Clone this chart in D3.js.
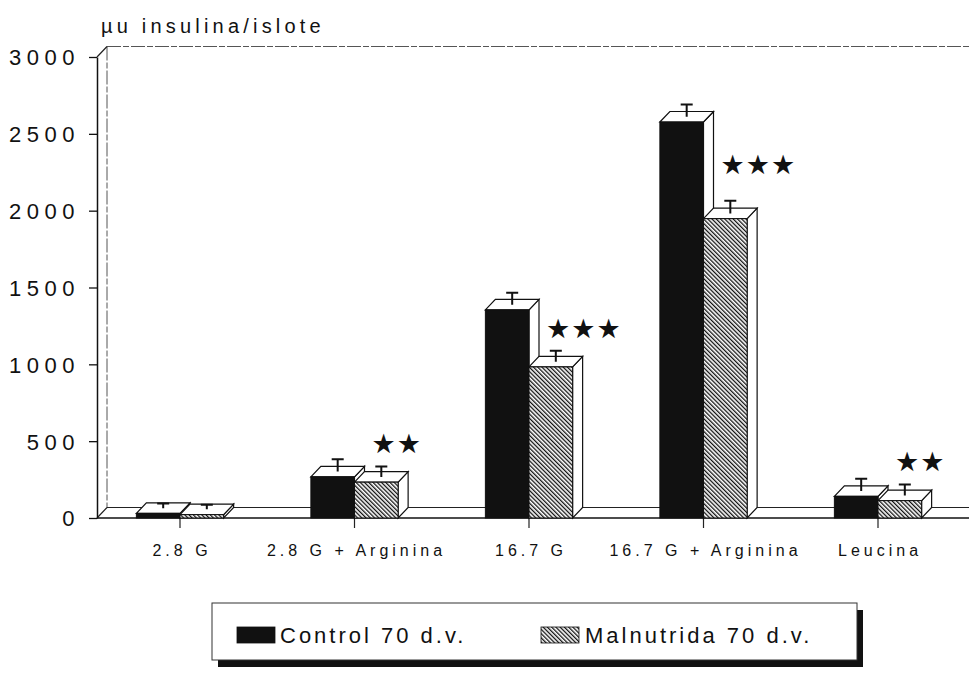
<!DOCTYPE html>
<html>
<head>
<meta charset="utf-8">
<script src="https://cdn.jsdelivr.net/npm/d3@7/dist/d3.min.js"></script>
<style>
  html, body { margin: 0; padding: 0; background: #fff; }
  svg { display: block; }
</style>
</head>
<body>
<svg id="chart" width="969" height="685"></svg>
<script>
// Insulin content per islet, control vs. malnourished rats at 70 days
const categories = ["2.8 G", "2.8 G + Arginina", "16.7 G", "16.7 G + Arginina", "Leucina"];
const control    = [30, 268, 1354, 2577, 141];
const controlErr = [30, 80, 78, 80, 80];
const malnutrida = [22, 233, 983, 1948, 113];
const malErr     = [30, 68, 72, 82, 71];
const significance = ["", "★★", "★★★", "★★★", "★★"];
const yTicks = [0, 500, 1000, 1500, 2000, 2500, 3000];
const seriesNames = ["Control 70 d.v.", "Malnutrida 70 d.v."];
const yTitle = "µu insulina/islote";

const FONT = "'Liberation Sans', Arial, Helvetica, sans-serif";
const svg = d3.select("#chart");

// pseudo-3D depth of the boxes and walls
const dx = 10, dy = 10.5;
const axisX = 97, plotRight = 969;

const y = d3.scaleLinear().domain([0, 3000]).range([518, 57]);
const x = d3.scaleBand().domain(categories).range([92.75, 965.25]).padding(0);
const barW = x.bandwidth() * 0.25;
const center = c => x(c) + x.bandwidth() / 2;

// diagonal hatching (opaque white ground) for the malnourished series
const defs = svg.append("defs");
const hatch = defs.append("pattern")
  .attr("id", "hatch")
  .attr("patternUnits", "userSpaceOnUse")
  .attr("width", 3).attr("height", 3)
  .attr("patternTransform", "rotate(-45)");
hatch.append("rect")
  .attr("x", 0).attr("y", 0).attr("width", 3).attr("height", 3)
  .attr("fill", "#fff");
hatch.append("rect")
  .attr("x", 0).attr("y", 0).attr("width", 1.3).attr("height", 3)
  .attr("fill", "#111");

// walls and floor
const frame = svg.append("g").attr("fill", "none");
const y0 = y(0), yTop = y(3000);
frame.append("path")
  .attr("d", `M${axisX + dx},${yTop - dy} H${plotRight} M${axisX + dx},${yTop - dy} V${y0 - dy}`)
  .attr("stroke", "#555").attr("stroke-width", 1).attr("stroke-dasharray", "14 2 6 2");
frame.append("path")
  .attr("d", `M${axisX},${yTop} L${axisX + dx},${yTop - dy} M${axisX},${y0} L${axisX + dx},${y0 - dy} M${axisX + dx},${y0 - dy} H${plotRight}`)
  .attr("stroke", "#222").attr("stroke-width", 1.2);
frame.append("path")
  .attr("d", `M${axisX},${y0} H${plotRight}`)
  .attr("stroke", "#111").attr("stroke-width", 1.5);

// y axis
const yAxis = svg.append("g")
  .attr("transform", `translate(${axisX},0)`)
  .call(d3.axisLeft(y).tickValues(yTicks).tickFormat(d3.format("d"))
    .tickSize(8).tickSizeOuter(0).tickPadding(9));
yAxis.select(".domain").attr("stroke", "#111").attr("stroke-width", 1.5);
yAxis.selectAll(".tick line").attr("stroke", "#111").attr("stroke-width", 1.3);
yAxis.selectAll(".tick text")
  .attr("font-family", FONT).attr("font-size", 22).attr("letter-spacing", 5.5)
  .attr("fill", "#111").attr("dx", 0).attr("dy", "0.36em");

// y title
svg.append("text")
  .attr("x", 101).attr("y", 33)
  .attr("font-family", FONT).attr("font-size", 20).attr("letter-spacing", 4.2)
  .attr("fill", "#111")
  .text(yTitle);

// x axis (tick between the two bars of each group)
const xAxis = svg.append("g")
  .attr("transform", `translate(0,${y0})`)
  .call(d3.axisBottom(x).tickSize(10).tickPadding(17));
xAxis.select(".domain").remove();
xAxis.selectAll(".tick line").attr("stroke", "#222").attr("stroke-width", 1.2);
xAxis.selectAll(".tick text")
  .attr("font-family", FONT).attr("font-size", 16).attr("letter-spacing", 4)
  .attr("fill", "#111").attr("dx", 2);

// 3D boxes: side face, top face, then front face
function box(g, x0, v, fill) {
  const yt = y(v);
  g.append("path")
    .attr("d", `M${x0 + barW},${yt} L${x0 + barW + dx},${yt - dy} L${x0 + barW + dx},${y0 - dy} L${x0 + barW},${y0} Z`)
    .attr("fill", "#fff").attr("stroke", "#111").attr("stroke-width", 1.2);
  g.append("path")
    .attr("d", `M${x0},${yt} L${x0 + dx},${yt - dy} L${x0 + barW + dx},${yt - dy} L${x0 + barW},${yt} Z`)
    .attr("fill", "#fff").attr("stroke", "#111").attr("stroke-width", 1.2);
  g.append("rect")
    .attr("x", x0).attr("y", yt)
    .attr("width", barW).attr("height", y0 - yt)
    .attr("fill", fill).attr("stroke", "#111").attr("stroke-width", 1);
}

function errorBar(g, x0, v, e) {
  const cx = x0 + barW / 2 + dx / 2;
  const ya = y(v) - dy / 2, yb = y(v + e) - dy / 2;
  g.append("path")
    .attr("d", `M${cx},${ya} V${yb} M${cx - 6},${yb} H${cx + 6}`)
    .attr("stroke", "#111").attr("stroke-width", 2).attr("fill", "none");
}

const bars = svg.append("g");
categories.forEach((c, i) => {
  const g = bars.append("g");
  const xc = center(c);
  box(g, xc - barW, control[i], "#111");
  errorBar(g, xc - barW, control[i], controlErr[i]);
  box(g, xc, malnutrida[i], "url(#hatch)");
  errorBar(g, xc, malnutrida[i], malErr[i]);
});

// significance stars
categories.forEach((c, i) => {
  if (!significance[i]) return;
  const xc = center(c);
  const mid = (y(control[i]) + y(malnutrida[i])) / 2 - 5;
  const aboveCap = y(malnutrida[i] + malErr[i]) - dy / 2 - 22;
  const cy = Math.min(mid, aboveCap);
  svg.append("text")
    .attr("x", xc + 17).attr("y", cy + 9)
    .attr("font-family", "'DejaVu Sans', sans-serif")
    .attr("font-size", 27).attr("letter-spacing", 1)
    .attr("fill", "#111")
    .text(significance[i]);
});

// legend with drop shadow
const legend = svg.append("g");
legend.append("rect")
  .attr("x", 218).attr("y", 610).attr("width", 645).attr("height", 57)
  .attr("fill", "#111");
legend.append("rect")
  .attr("x", 212).attr("y", 603).attr("width", 645).attr("height", 57)
  .attr("fill", "#fff").attr("stroke", "#333").attr("stroke-width", 1);
const legendItems = [
  { name: seriesNames[0], fill: "#111", sx: 237, tx: 280 },
  { name: seriesNames[1], fill: "url(#hatch)", sx: 541, tx: 585 }
];
legendItems.forEach(d => {
  legend.append("rect")
    .attr("x", d.sx).attr("y", 627).attr("width", 38).attr("height", 16)
    .attr("fill", d.fill).attr("stroke", "#111").attr("stroke-width", 0.8);
  legend.append("text")
    .attr("x", d.tx).attr("y", 643)
    .attr("font-family", FONT).attr("font-size", 22).attr("letter-spacing", 3)
    .attr("fill", "#111")
    .text(d.name);
});
</script>
</body>
</html>
